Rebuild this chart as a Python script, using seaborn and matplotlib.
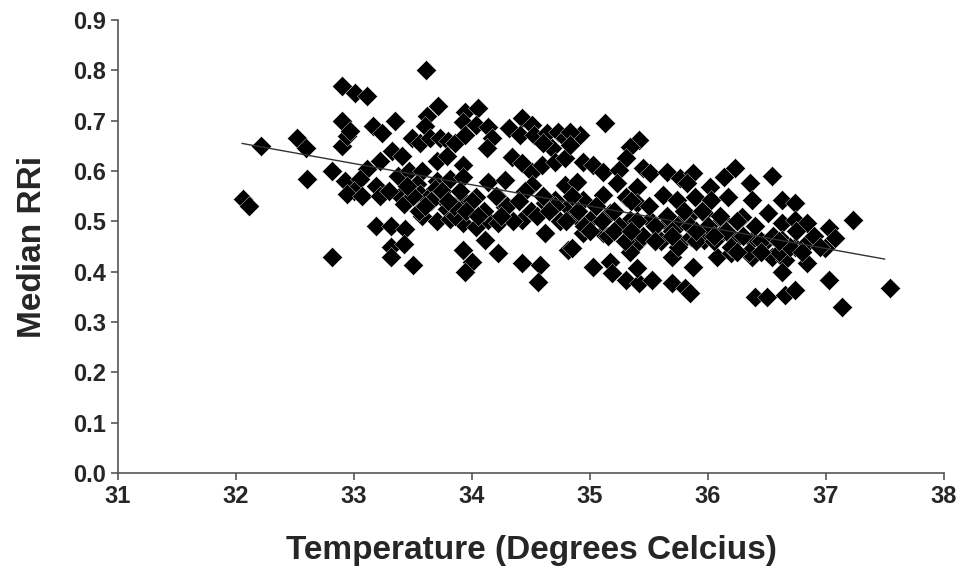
import numpy as np
import pandas as pd
import matplotlib
matplotlib.use('Agg')
import matplotlib.pyplot as plt
import seaborn as sns

# values (temperature in deg C, median RRi)
temp = [32.06, 32.11, 32.21, 32.52, 32.59, 32.60, 32.81, 32.81, 32.90, 32.90,
        32.90, 32.92, 32.94, 32.97, 33.61, 33.01, 33.11, 33.16, 33.24, 33.35,
        33.71, 33.62, 33.60, 33.49, 33.56, 33.64, 33.73, 33.80, 33.32, 33.41,
        33.22, 33.11, 33.05, 33.37, 33.47, 33.58, 33.70, 33.79, 33.00, 33.19,
        33.53, 33.70, 33.81, 32.94, 33.07, 33.22, 33.39, 33.56, 33.69, 33.42,
        33.62, 33.73, 33.79, 33.58, 33.70, 33.81, 33.19, 33.31, 33.43, 33.31,
        33.42, 33.31, 33.50, 33.94, 34.05, 33.92, 34.03, 34.14, 33.86, 33.94,
        34.17, 34.13, 34.31, 34.42, 34.51, 34.41, 34.53, 34.64, 34.73, 34.79,
        34.68, 34.60, 34.34, 34.42, 34.51, 34.59, 34.70, 34.79, 33.92, 33.92,
        34.14, 34.28, 34.51, 34.79, 33.92, 34.03, 34.22, 34.28, 34.62, 34.70,
        34.81, 33.92, 34.03, 34.14, 34.22, 34.42, 34.62, 34.11, 34.22, 33.92,
        34.00, 33.94, 34.42, 34.58, 34.56, 34.81, 33.86, 35.13, 34.92, 34.83,
        34.83, 35.42, 35.34, 35.31, 34.94, 35.03, 35.11, 35.25, 35.45, 35.51,
        35.65, 35.76, 34.89, 35.23, 35.40, 34.86, 34.94, 35.11, 35.31, 35.40,
        35.62, 35.74, 34.89, 35.00, 35.17, 35.34, 35.51, 35.65, 35.76, 34.94,
        35.11, 35.34, 35.40, 35.57, 35.76, 34.85, 35.34, 35.70, 35.03, 35.17,
        35.19, 35.31, 35.42, 35.40, 35.53, 35.70, 35.81, 35.85, 36.23, 36.14,
        35.87, 36.54, 36.36, 36.02, 35.82, 35.89, 36.03, 36.17, 36.37, 36.63,
        36.74, 35.83, 35.97, 36.12, 36.29, 36.51, 36.63, 36.74, 35.86, 35.97,
        36.12, 36.23, 36.37, 36.48, 36.63, 36.74, 36.08, 36.20, 36.37, 36.54,
        36.65, 35.87, 36.63, 36.40, 36.50, 36.65, 36.74, 37.23, 37.03, 37.08,
        36.99, 36.84, 36.84, 36.84, 37.03, 37.14, 37.54]
rri = [0.545, 0.530, 0.650, 0.665, 0.645, 0.585, 0.430, 0.600, 0.770, 0.700,
       0.650, 0.580, 0.670, 0.680, 0.800, 0.755, 0.750, 0.690, 0.675, 0.700,
       0.730, 0.710, 0.690, 0.665, 0.655, 0.665, 0.665, 0.660, 0.640, 0.630,
       0.620, 0.605, 0.585, 0.590, 0.600, 0.600, 0.620, 0.630, 0.560, 0.570,
       0.575, 0.580, 0.585, 0.555, 0.550, 0.550, 0.550, 0.555, 0.565, 0.535,
       0.545, 0.550, 0.525, 0.510, 0.500, 0.505, 0.490, 0.490, 0.485, 0.450,
       0.455, 0.430, 0.413, 0.718, 0.726, 0.698, 0.692, 0.688, 0.656, 0.672,
       0.666, 0.646, 0.686, 0.706, 0.692, 0.672, 0.672, 0.676, 0.678, 0.666,
       0.646, 0.656, 0.628, 0.616, 0.598, 0.612, 0.618, 0.626, 0.612, 0.588,
       0.579, 0.583, 0.573, 0.573, 0.543, 0.549, 0.549, 0.529, 0.537, 0.543,
       0.529, 0.497, 0.489, 0.503, 0.497, 0.503, 0.477, 0.463, 0.437, 0.443,
       0.419, 0.400, 0.417, 0.414, 0.380, 0.443, 0.510, 0.695, 0.672, 0.678,
       0.652, 0.662, 0.648, 0.626, 0.618, 0.612, 0.598, 0.602, 0.606, 0.596,
       0.598, 0.586, 0.579, 0.577, 0.569, 0.549, 0.543, 0.553, 0.549, 0.537,
       0.553, 0.543, 0.509, 0.503, 0.517, 0.503, 0.503, 0.497, 0.497, 0.477,
       0.477, 0.469, 0.457, 0.469, 0.457, 0.447, 0.439, 0.429, 0.410, 0.419,
       0.398, 0.384, 0.378, 0.408, 0.384, 0.378, 0.368, 0.358, 0.607, 0.588,
       0.596, 0.590, 0.577, 0.569, 0.577, 0.549, 0.543, 0.549, 0.543, 0.543,
       0.537, 0.509, 0.517, 0.503, 0.509, 0.517, 0.497, 0.503, 0.469, 0.463,
       0.477, 0.463, 0.463, 0.457, 0.463, 0.449, 0.429, 0.437, 0.429, 0.429,
       0.423, 0.410, 0.400, 0.350, 0.350, 0.354, 0.364, 0.503, 0.487, 0.467,
       0.447, 0.497, 0.457, 0.417, 0.384, 0.330, 0.368]

# points hidden in the dense middle band
temp_dense = [33.30, 33.50, 33.55, 33.65, 33.75, 33.85, 33.90, 34.00, 34.10, 34.20,
              34.30, 34.35, 34.45, 34.50, 34.60, 34.70, 34.75, 34.85, 34.90, 34.95,
              35.05, 35.10, 35.15, 35.20, 35.25, 35.30, 35.35, 35.40, 35.45, 35.50,
              35.55, 35.60, 35.65, 35.70, 35.75, 35.80, 35.85, 35.90, 35.95, 36.00,
              36.05, 36.10, 36.15, 36.20, 36.25, 36.30, 36.35, 36.40, 36.45, 36.55,
              36.60, 36.70, 36.75, 36.80, 36.90, 36.95,
              33.45, 33.60, 33.80, 33.95, 34.05, 34.25, 34.40, 34.55, 34.65, 34.80,
              35.00, 35.20, 35.35, 35.55, 35.70, 35.90, 36.05, 36.25, 36.45, 36.60]
rri_dense = [0.56, 0.55, 0.52, 0.54, 0.56, 0.53, 0.56, 0.54, 0.52, 0.55,
             0.53, 0.50, 0.56, 0.52, 0.55, 0.53, 0.50, 0.55, 0.52, 0.49,
             0.53, 0.50, 0.47, 0.52, 0.49, 0.46, 0.54, 0.50, 0.47, 0.53,
             0.49, 0.46, 0.51, 0.48, 0.45, 0.52, 0.49, 0.46, 0.52, 0.49,
             0.46, 0.51, 0.48, 0.45, 0.50, 0.47, 0.44, 0.49, 0.46, 0.47,
             0.44, 0.45, 0.48, 0.44, 0.47, 0.45,
             0.57, 0.53, 0.54, 0.52, 0.51, 0.51, 0.54, 0.51, 0.52, 0.50,
             0.48, 0.48, 0.48, 0.46, 0.47, 0.48, 0.47, 0.44, 0.44, 0.46]

# trend line end points as drawn in the reference
trend_x = [32.05, 37.50]
trend_y = [0.655, 0.425]

df = pd.DataFrame({'temp': temp + temp_dense, 'rri': rri + rri_dense})

sns.set_style('ticks')
plt.rcParams['font.family'] = ['Liberation Sans', 'DejaVu Sans']

fig, ax = plt.subplots(figsize=(9.76, 5.76), dpi=100)
fig.subplots_adjust(left=0.121, right=0.967, top=0.965, bottom=0.179)

sns.scatterplot(x='temp', y='rri', data=df, marker='D', s=105, color='black',
                edgecolor='white', linewidth=0.25, ax=ax, zorder=2)
sns.lineplot(x=trend_x, y=trend_y, color='#333333', lw=1.0, ax=ax, zorder=3)

ax.set_xlim(31, 38)
ax.set_ylim(0, 0.9)
ax.set_xticks(np.arange(31, 39, 1))
ax.set_yticks(np.arange(0, 0.91, 0.1))
ax.set_yticklabels([f'{v:.1f}' for v in np.arange(0, 0.91, 0.1)])
ax.tick_params(axis='both', labelsize=17, width=1.2, length=5, color='#555555')
for lab in ax.get_xticklabels() + ax.get_yticklabels():
    lab.set_fontweight('bold')

ax.set_xlabel('Temperature (Degrees Celcius)', fontsize=24, fontweight='bold', labelpad=20)
ax.set_ylabel('Median RRi', fontsize=24, fontweight='bold', labelpad=18)

for side in ['left', 'bottom']:
    ax.spines[side].set_color('#555555')
    ax.spines[side].set_linewidth(1.2)
sns.despine(ax=ax)

fig.savefig('out.png', dpi=100)
